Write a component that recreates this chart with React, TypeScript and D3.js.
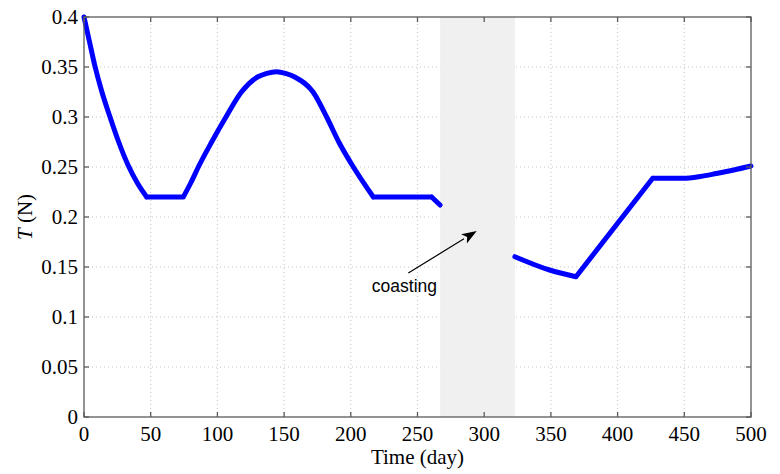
import React from 'react';
import * as d3 from 'd3';

// thrust history before coasting (day, N)
const daysA = [0, 4, 8, 13, 19.5, 26, 33, 40, 47, 74.4, 80, 85.7, 95.7, 106.4, 118, 130, 137, 144.4, 151, 158, 171.7, 181.9, 191, 201.9, 216.9, 260.6, 266.9];
const thrustA = [0.4, 0.376, 0.352, 0.327, 0.3, 0.275, 0.252, 0.234, 0.22, 0.22, 0.234, 0.25, 0.275, 0.3, 0.325, 0.34, 0.3437, 0.3453, 0.3437, 0.34, 0.325, 0.3, 0.275, 0.25, 0.22, 0.22, 0.212];
// indices where the profile has a corner
const cornersA = [8, 9, 24, 25];
// thrust history after coasting
const daysB = [323, 349, 368.8, 426.3, 449, 462, 474, 487, 500];
const thrustB = [0.1603, 0.147, 0.1403, 0.2387, 0.2387, 0.2405, 0.2435, 0.247, 0.251];
const cornersB = [2, 3];

const coastWindow = [267, 323];
const xTicks = [0, 50, 100, 150, 200, 250, 300, 350, 400, 450, 500];
const yTicks = [0, 0.05, 0.1, 0.15, 0.2, 0.25, 0.3, 0.35, 0.4];

// annotation arrow (day, N)
const arrowTail = [243.1, 0.144];
const arrowTip = [294.4, 0.186];

const W = 780;
const H = 474;
const margin = { top: 17, right: 29, bottom: 57, left: 84 };

export default function App() {
  const x = d3.scaleLinear().domain([0, 500]).range([margin.left, W - margin.right]);
  const y = d3.scaleLinear().domain([0, 0.4]).range([H - margin.bottom, margin.top]);

  // smooth between corners, sharp at corners
  const makePath = (xs: number[], ys: number[], corners: number[]) => {
    const cuts = [0, ...corners, xs.length - 1];
    const gen = d3.line<number>()
      .x(i => x(xs[i]))
      .y(i => y(ys[i]))
      .curve(d3.curveMonotoneX);
    let d = '';
    for (let k = 0; k < cuts.length - 1; k++) {
      const idx = d3.range(cuts[k], cuts[k + 1] + 1);
      d += gen(idx) || '';
    }
    return d;
  };

  const x0 = margin.left, x1 = W - margin.right;
  const y0 = H - margin.bottom, y1 = margin.top;
  const tick = 5;
  const serif = '"Liberation Serif", "Times New Roman", serif';
  const frame = '#5a5a5a';

  // arrow geometry
  const tx = x(arrowTail[0]), ty = y(arrowTail[1]);
  const hx = x(arrowTip[0]), hy = y(arrowTip[1]);
  const ang = Math.atan2(hy - ty, hx - tx);
  const headLen = 15, headW = 5.5;
  const bx = hx - headLen * Math.cos(ang), by = hy - headLen * Math.sin(ang);
  const head = [
    [hx, hy],
    [bx + headW * Math.sin(ang), by - headW * Math.cos(ang)],
    [hx - headLen * 0.75 * Math.cos(ang), hy - headLen * 0.75 * Math.sin(ang)],
    [bx - headW * Math.sin(ang), by + headW * Math.cos(ang)],
  ];

  return (
    <svg width={W} height={H} style={{ position: 'absolute', left: 0, top: 0, background: '#fff' }}>
      {/* grid */}
      <g stroke="#c4c4c4" strokeWidth={1} strokeDasharray="1,3">
        {xTicks.slice(1, -1).map(t => (
          <line key={'gx' + t} x1={x(t)} x2={x(t)} y1={y0} y2={y1} />
        ))}
        {yTicks.slice(1, -1).map(t => (
          <line key={'gy' + t} x1={x0} x2={x1} y1={y(t)} y2={y(t)} />
        ))}
      </g>

      {/* coasting window */}
      <rect x={x(coastWindow[0])} y={y1} width={x(coastWindow[1]) - x(coastWindow[0])} height={y0 - y1} fill="#f0f0f0" />

      {/* thrust */}
      <g fill="none" stroke="#0000ff" strokeWidth={5} strokeLinejoin="round" strokeLinecap="round">
        <path d={makePath(daysA, thrustA, cornersA)} />
        <path d={makePath(daysB, thrustB, cornersB)} />
      </g>

      {/* annotation */}
      <line x1={tx} y1={ty} x2={bx} y2={by} stroke="#000" strokeWidth={1.2} />
      <polygon points={head.map(p => p.join(',')).join(' ')} fill="#000" />
      <text x={437} y={292} textAnchor="end" fontFamily='"Liberation Sans", Arial, sans-serif' fontSize={17.5} fill="#000">coasting</text>

      {/* frame and ticks */}
      <rect x={x0} y={y1} width={x1 - x0} height={y0 - y1} fill="none" stroke={frame} strokeWidth={1.3} />
      <g stroke={frame} strokeWidth={1.3}>
        {xTicks.map(t => (
          <g key={'tx' + t}>
            <line x1={x(t)} x2={x(t)} y1={y0} y2={y0 - tick} />
            <line x1={x(t)} x2={x(t)} y1={y1} y2={y1 + tick} />
          </g>
        ))}
        {yTicks.map(t => (
          <g key={'ty' + t}>
            <line x1={x0} x2={x0 + tick} y1={y(t)} y2={y(t)} />
            <line x1={x1} x2={x1 - tick} y1={y(t)} y2={y(t)} />
          </g>
        ))}
      </g>

      {/* tick labels */}
      <g fontFamily={serif} fontSize={21} fill="#000">
        {xTicks.map(t => (
          <text key={'lx' + t} x={x(t)} y={441} textAnchor="middle">{t}</text>
        ))}
        {yTicks.map(t => (
          <text key={'ly' + t} x={x0 - 6} y={y(t)} dy="0.34em" textAnchor="end">{String(+t.toFixed(2))}</text>
        ))}
      </g>

      {/* axis titles */}
      <text x={(x0 + x1) / 2} y={464} textAnchor="middle" fontFamily={serif} fontSize={21} fill="#000">Time (day)</text>
      <text transform={`translate(32,${(y0 + y1) / 2}) rotate(-90)`} textAnchor="middle" fontFamily={serif} fontSize={21} fill="#000">
        <tspan fontStyle="italic">T</tspan> (N)
      </text>
    </svg>
  );
}
